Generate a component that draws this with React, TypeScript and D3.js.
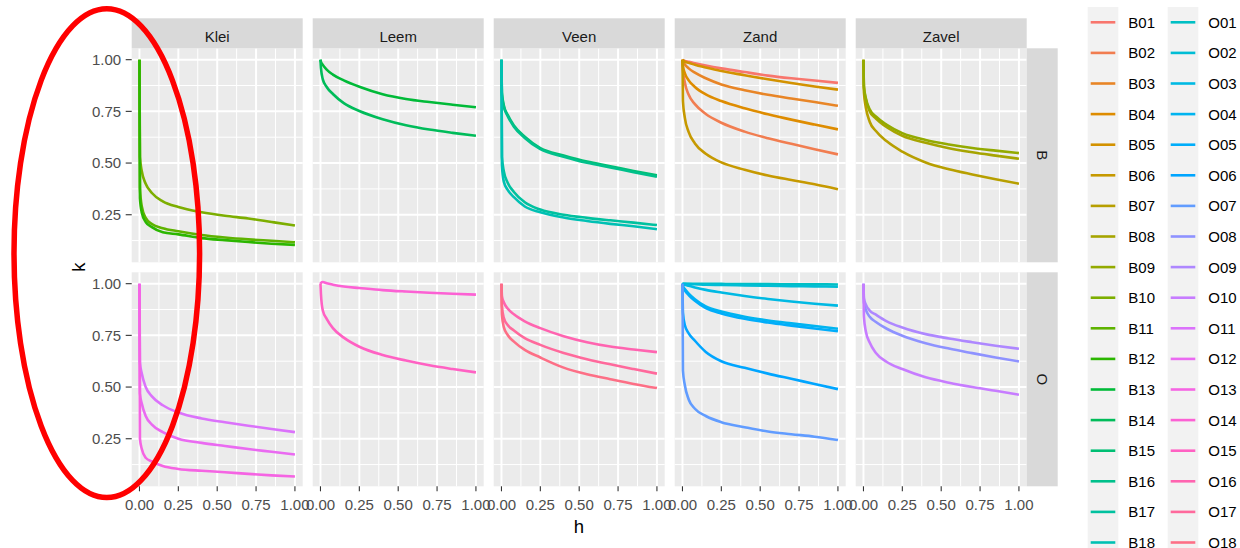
import React from "react";
import * as d3 from "d3";

// facets
const soils = ["Klei", "Leem", "Veen", "Zand", "Zavel"];
const layers = ["B", "O"];

const hValues = [0, 0.003, 0.015, 0.04, 0.08, 0.15, 0.25, 0.4, 0.55, 0.7, 0.85, 1.0];

// B layer
const B01 = [1, 0.998, 0.994, 0.99, 0.983, 0.972, 0.958, 0.94, 0.923, 0.91, 0.899, 0.888];
const B02 = [1, 0.95, 0.89, 0.83, 0.785, 0.737, 0.695, 0.652, 0.62, 0.593, 0.567, 0.542];
const B03 = [1, 0.99, 0.977, 0.958, 0.937, 0.91, 0.88, 0.852, 0.83, 0.812, 0.795, 0.777];
const B04 = [1, 0.97, 0.935, 0.9, 0.868, 0.832, 0.8, 0.765, 0.736, 0.71, 0.686, 0.663];
const B05 = [1, 0.998, 0.99, 0.985, 0.975, 0.962, 0.945, 0.925, 0.905, 0.887, 0.87, 0.855];
const B06 = [1, 0.8, 0.72, 0.65, 0.595, 0.545, 0.503, 0.468, 0.44, 0.418, 0.397, 0.373];
const B07 = [1, 0.84, 0.77, 0.7, 0.655, 0.605, 0.555, 0.503, 0.47, 0.445, 0.422, 0.4];
const B08 = [1, 0.865, 0.81, 0.75, 0.715, 0.673, 0.632, 0.598, 0.572, 0.552, 0.536, 0.521];
const B09 = [1, 0.87, 0.815, 0.76, 0.725, 0.685, 0.645, 0.612, 0.59, 0.573, 0.56, 0.548];
const B10 = [1, 0.53, 0.46, 0.4, 0.355, 0.315, 0.287, 0.262, 0.245, 0.232, 0.215, 0.198];
const B11 = [1, 0.38, 0.29, 0.235, 0.205, 0.185, 0.17, 0.152, 0.14, 0.131, 0.124, 0.117];
const B12 = [1, 0.33, 0.26, 0.215, 0.19, 0.165, 0.155, 0.137, 0.127, 0.118, 0.11, 0.104];
const B13 = [1, 0.99, 0.975, 0.952, 0.928, 0.9, 0.869, 0.833, 0.81, 0.795, 0.782, 0.77];
const B14 = [1, 0.96, 0.905, 0.868, 0.834, 0.79, 0.752, 0.712, 0.683, 0.662, 0.646, 0.632];
const B15 = [1, 0.84, 0.78, 0.733, 0.682, 0.627, 0.572, 0.537, 0.507, 0.485, 0.462, 0.441];
const B16 = [1, 0.83, 0.772, 0.727, 0.676, 0.621, 0.567, 0.531, 0.501, 0.479, 0.456, 0.434];
const B17 = [1, 0.53, 0.46, 0.405, 0.36, 0.31, 0.275, 0.25, 0.235, 0.223, 0.212, 0.2];
const B18 = [1, 0.49, 0.41, 0.37, 0.335, 0.29, 0.262, 0.237, 0.22, 0.206, 0.194, 0.18];

// O layer
const O01 = [1, 1, 1, 1, 1, 1, 0.999, 0.998, 0.998, 0.997, 0.997, 0.996];
const O02 = [1, 1, 0.999, 0.998, 0.997, 0.995, 0.994, 0.992, 0.99, 0.988, 0.987, 0.985];
const O03 = [1, 0.998, 0.995, 0.99, 0.982, 0.97, 0.957, 0.94, 0.926, 0.914, 0.903, 0.894];
const O04 = [1, 0.99, 0.974, 0.952, 0.925, 0.89, 0.865, 0.84, 0.822, 0.808, 0.795, 0.782];
const O05 = [1, 0.985, 0.968, 0.945, 0.917, 0.882, 0.856, 0.83, 0.812, 0.797, 0.783, 0.77];
const O06 = [1, 0.86, 0.8, 0.76, 0.724, 0.67, 0.625, 0.593, 0.565, 0.54, 0.515, 0.49];
const O07 = [1, 0.58, 0.51, 0.44, 0.395, 0.36, 0.33, 0.306, 0.285, 0.272, 0.26, 0.244];
const O08 = [1, 0.91, 0.875, 0.84, 0.815, 0.782, 0.748, 0.712, 0.686, 0.664, 0.643, 0.624];
const O09 = [1, 0.93, 0.9, 0.87, 0.85, 0.818, 0.788, 0.756, 0.735, 0.717, 0.7, 0.685];
const O10 = [1, 0.84, 0.77, 0.715, 0.665, 0.621, 0.587, 0.547, 0.521, 0.5, 0.482, 0.463];
const O11 = [1, 0.62, 0.565, 0.5, 0.455, 0.412, 0.377, 0.348, 0.33, 0.313, 0.297, 0.282];
const O12 = [1, 0.47, 0.42, 0.36, 0.318, 0.282, 0.25, 0.23, 0.215, 0.2, 0.187, 0.174];
const O13 = [1, 0.25, 0.2, 0.158, 0.14, 0.118, 0.104, 0.095, 0.088, 0.08, 0.073, 0.067];
const O14 = [1, 1.004, 1.008, 1.002, 0.995, 0.986, 0.979, 0.969, 0.962, 0.956, 0.951, 0.947];
const O15 = [1, 0.95, 0.87, 0.83, 0.785, 0.739, 0.695, 0.655, 0.628, 0.605, 0.587, 0.571];
const O16 = [1, 0.94, 0.91, 0.88, 0.852, 0.818, 0.785, 0.746, 0.717, 0.696, 0.682, 0.669];
const O17 = [1, 0.89, 0.835, 0.8, 0.774, 0.737, 0.704, 0.665, 0.635, 0.61, 0.587, 0.565];
const O18 = [1, 0.85, 0.79, 0.752, 0.72, 0.68, 0.643, 0.594, 0.562, 0.538, 0.515, 0.495];

const seriesIds = [
  "B01", "B02", "B03", "B04", "B05", "B06", "B07", "B08", "B09",
  "B10", "B11", "B12", "B13", "B14", "B15", "B16", "B17", "B18",
  "O01", "O02", "O03", "O04", "O05", "O06", "O07", "O08", "O09",
  "O10", "O11", "O12", "O13", "O14", "O15", "O16", "O17", "O18",
];
const seriesSoil = [
  "Zand", "Zand", "Zand", "Zand", "Zand", "Zand", "Zavel", "Zavel", "Zavel",
  "Klei", "Klei", "Klei", "Leem", "Leem", "Veen", "Veen", "Veen", "Veen",
  "Zand", "Zand", "Zand", "Zand", "Zand", "Zand", "Zand", "Zavel", "Zavel",
  "Zavel", "Klei", "Klei", "Klei", "Leem", "Leem", "Veen", "Veen", "Veen",
];
const seriesK = [
  B01, B02, B03, B04, B05, B06, B07, B08, B09, B10, B11, B12, B13, B14, B15, B16, B17, B18,
  O01, O02, O03, O04, O05, O06, O07, O08, O09, O10, O11, O12, O13, O14, O15, O16, O17, O18,
];

const xTicks = [0, 0.25, 0.5, 0.75, 1];
const yTicks = [0.25, 0.5, 0.75, 1];

// ggplot's default hue palette is hcl() in polar CIELUV
function hclLuv(h: number, c: number, l: number) {
  const hr = (h * Math.PI) / 180;
  const U = c * Math.cos(hr);
  const V = c * Math.sin(hr);
  const Y = l > 8 ? Math.pow((l + 16) / 116, 3) : l / 903.2963;
  const u = U / (13 * l) + 0.1978398;
  const v = V / (13 * l) + 0.4683363;
  const X = (9 * Y * u) / (4 * v);
  const Z = -X / 3 - 5 * Y + (3 * Y) / v;
  const gam = (t: number) => {
    const g = t <= 0.0031308 ? 12.92 * t : 1.055 * Math.pow(t, 1 / 2.4) - 0.055;
    return Math.round(255 * Math.max(0, Math.min(1, g)));
  };
  const r = gam(3.240479 * X - 1.53715 * Y - 0.498535 * Z);
  const gg = gam(-0.969256 * X + 1.875992 * Y + 0.041556 * Z);
  const b = gam(0.055648 * X - 0.204043 * Y + 1.057311 * Z);
  return `rgb(${r},${gg},${b})`;
}

const series = seriesIds.map((id, i) => ({
  id,
  layer: id[0],
  soil: seriesSoil[i],
  k: seriesK[i],
  color: hclLuv(15 + (360 * i) / seriesIds.length, 100, 65),
}));

const W = 1240;
const H = 548;
const panelX0 = 131.7;
const panelW = 171;
const panelGap = 10;
const rowTops = [48.3, 272.3];
const panelH = 214;
const stripH = 30;
const stripRW = 31;
const font = "'Liberation Sans', Arial, Helvetica, sans-serif";

export default function App() {
  const allK = seriesK.flat();
  const [kMin, kMax] = d3.extent(allK) as [number, number];
  const pad = (kMax - kMin) * 0.05;

  const x = d3.scaleLinear().domain([-0.05, 1.05]).range([0, panelW]);
  const y = d3.scaleLinear().domain([kMin - pad, kMax + pad]).range([panelH, 0]);

  const line = d3
    .line<number>()
    .x((_, i) => x(hValues[i]))
    .y((d) => y(d))
    .curve(d3.curveMonotoneX);

  const xMinor = [0.125, 0.375, 0.625, 0.875];
  const yMinor = [0.125, 0.375, 0.625, 0.875].filter((v) => v > y.domain()[0] && v < y.domain()[1]);
  const fmt = d3.format(".2f");

  const legendTop = 22.3;
  const legendStep = 30.6;
  const legendCols = [1087.7, 1167.7];
  const rowsPerCol = 18;

  return (
    <svg width={W} height={H} style={{ position: "absolute", left: 0, top: 0, background: "#fff" }} fontFamily={font}>
      {layers.map((layer, r) =>
        soils.map((soil, c) => {
          const px = panelX0 + c * (panelW + panelGap);
          const py = rowTops[r];
          const inPanel = series.filter((s) => s.layer === layer && s.soil === soil);
          return (
            <g key={layer + soil} transform={`translate(${px},${py})`}>
              <rect width={panelW} height={panelH} fill="#EBEBEB" />
              {xMinor.map((t) => (
                <line key={"xm" + t} x1={x(t)} x2={x(t)} y1={0} y2={panelH} stroke="#fff" strokeWidth={1} />
              ))}
              {yMinor.map((t) => (
                <line key={"ym" + t} x1={0} x2={panelW} y1={y(t)} y2={y(t)} stroke="#fff" strokeWidth={1} />
              ))}
              {xTicks.map((t) => (
                <line key={"xM" + t} x1={x(t)} x2={x(t)} y1={0} y2={panelH} stroke="#fff" strokeWidth={2} />
              ))}
              {yTicks.map((t) => (
                <line key={"yM" + t} x1={0} x2={panelW} y1={y(t)} y2={y(t)} stroke="#fff" strokeWidth={2} />
              ))}
              {inPanel.map((s) => (
                <path key={s.id} d={line(s.k) || ""} fill="none" stroke={s.color} strokeWidth={2.6} />
              ))}
              {r === 0 && (
                <g>
                  <rect y={-stripH} width={panelW} height={stripH} fill="#D9D9D9" />
                  <text x={panelW / 2} y={-stripH / 2 + 3} dy="0.36em" textAnchor="middle" fontSize={15} fill="#1A1A1A">
                    {soil}
                  </text>
                </g>
              )}
              {c === soils.length - 1 && (
                <g>
                  <rect x={panelW} width={stripRW} height={panelH} fill="#D9D9D9" />
                  <text
                    transform={`translate(${panelW + stripRW / 2},${panelH / 2}) rotate(90)`}
                    dy="0.36em"
                    textAnchor="middle"
                    fontSize={15}
                    fill="#1A1A1A"
                  >
                    {layer}
                  </text>
                </g>
              )}
              {c === 0 &&
                yTicks.map((t) => (
                  <g key={"yt" + t} transform={`translate(0,${y(t)})`}>
                    <line x1={-6} x2={0} stroke="#333" strokeWidth={1.1} />
                    <text x={-10.5} dy="0.36em" textAnchor="end" fontSize={15} fill="#4D4D4D">
                      {fmt(t)}
                    </text>
                  </g>
                ))}
              {r === layers.length - 1 &&
                xTicks.map((t) => (
                  <g key={"xt" + t} transform={`translate(${x(t)},${panelH})`}>
                    <line y1={0} y2={5} stroke="#333" strokeWidth={1.1} />
                    <text y={18} dy="0.36em" textAnchor="middle" fontSize={15} fill="#4D4D4D">
                      {fmt(t)}
                    </text>
                  </g>
                ))}
            </g>
          );
        })
      )}

      <text transform="translate(78,267) rotate(-90)" dy="0.36em" textAnchor="middle" fontSize={18.5} fill="#000">
        k
      </text>
      <text x={579} y={526} dy="0.36em" textAnchor="middle" fontSize={18.5} fill="#000">
        h
      </text>

      {legendCols.map((lx) => (
        <rect key={"lb" + lx} x={lx} y={legendTop - legendStep / 2} width={legendStep} height={H} fill="#F2F2F2" />
      ))}
      {series.map((s, i) => {
        const col = Math.floor(i / rowsPerCol);
        const row = i % rowsPerCol;
        const lx = legendCols[col];
        const ly = legendTop + row * legendStep;
        return (
          <g key={"lg" + s.id}>
            <line x1={lx + 3} x2={lx + legendStep - 3} y1={ly} y2={ly} stroke={s.color} strokeWidth={2.6} />
            <text x={lx + legendStep + 10} y={ly} dy="0.36em" fontSize={15} fill="#000">
              {s.id}
            </text>
          </g>
        );
      })}

      <ellipse cx={106.8} cy={253.2} rx={92.8} ry={244.4} fill="none" stroke="#FF0000" strokeWidth={5.5} />
    </svg>
  );
}
